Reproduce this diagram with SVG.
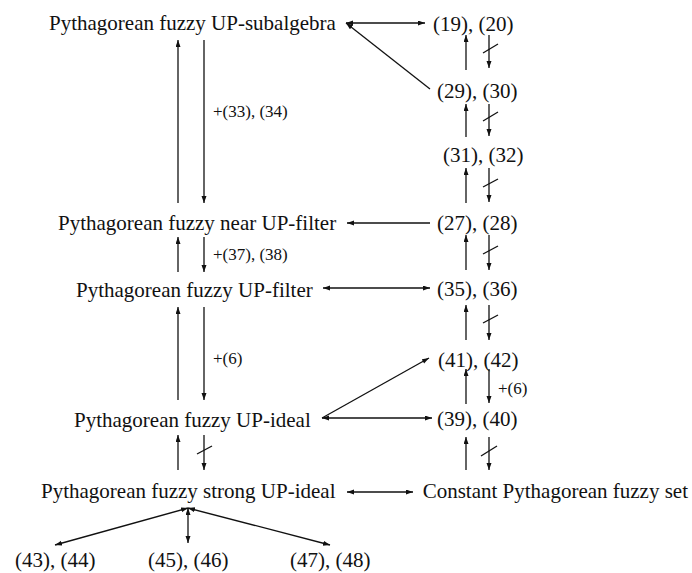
<svg xmlns="http://www.w3.org/2000/svg" width="692" height="573" viewBox="0 0 692 573">
<defs>
<marker id="ah" markerUnits="userSpaceOnUse" markerWidth="8" markerHeight="6" refX="7" refY="2.5" orient="auto-start-reverse">
<path d="M0,0 L7,2.5 L0,5 z" fill="#111"/>
</marker>
<style>
.t{font-family:"Liberation Serif","Times New Roman",serif;font-size:21px;fill:#111}
.s{font-family:"Liberation Serif","Times New Roman",serif;font-size:17px;fill:#111}
.c{stroke:#111;stroke-width:1.3;fill:none}
.a{marker-end:url(#ah)}
.d{marker-start:url(#ah);marker-end:url(#ah)}
</style>
</defs>
<rect width="692" height="573" fill="#fff"/>
<g id="n-subalgebra"><text class="t" x="49" y="30">Pythagorean fuzzy UP-subalgebra</text></g>
<g id="n-near"><text class="t" x="58" y="230">Pythagorean fuzzy near UP-filter</text></g>
<g id="n-filter"><text class="t" x="76" y="297">Pythagorean fuzzy UP-filter</text></g>
<g id="n-ideal"><text class="t" x="74" y="427">Pythagorean fuzzy UP-ideal</text></g>
<g id="n-strong"><text class="t" x="41" y="498">Pythagorean fuzzy strong UP-ideal</text></g>
<g id="n-constant"><text class="t" x="688" y="498" text-anchor="end">Constant Pythagorean fuzzy set</text></g>
<g id="n-19"><text class="t" x="433" y="31">(19), (20)</text></g>
<g id="n-29"><text class="t" x="437" y="98">(29), (30)</text></g>
<g id="n-31"><text class="t" x="443" y="162">(31), (32)</text></g>
<g id="n-27"><text class="t" x="437" y="230">(27), (28)</text></g>
<g id="n-35"><text class="t" x="437" y="296">(35), (36)</text></g>
<g id="n-41"><text class="t" x="438" y="367">(41), (42)</text></g>
<g id="n-39"><text class="t" x="437" y="426">(39), (40)</text></g>
<g id="n-43"><text class="t" x="15" y="567">(43), (44)</text></g>
<g id="n-45"><text class="t" x="148" y="567">(45), (46)</text></g>
<g id="n-47"><text class="t" x="290" y="567">(47), (48)</text></g>
<g id="connectors">
<line class="c a" x1="178" y1="203" x2="178" y2="40"/>
<line class="c a" x1="204" y1="40" x2="204" y2="203"/>
<text class="s" x="213" y="117">+(33), (34)</text>
<line class="c a" x1="178" y1="272" x2="178" y2="237"/>
<line class="c a" x1="204" y1="237" x2="204" y2="272"/>
<text class="s" x="213" y="260">+(37), (38)</text>
<line class="c a" x1="178" y1="400" x2="178" y2="307"/>
<line class="c a" x1="204" y1="307" x2="204" y2="400"/>
<text class="s" x="213" y="364">+(6)</text>
<line class="c a" x1="178" y1="470" x2="178" y2="435"/>
<line class="c a" x1="204" y1="435" x2="204" y2="470"/>
<line class="c" x1="197" y1="454" x2="212" y2="446"/>
<line class="c a" x1="466" y1="70" x2="466" y2="35"/>
<line class="c a" x1="489" y1="35" x2="489" y2="68"/>
<line class="c" x1="483" y1="53" x2="498" y2="44"/>
<line class="c a" x1="466" y1="137" x2="466" y2="104"/>
<line class="c a" x1="489" y1="104" x2="489" y2="136"/>
<line class="c" x1="483" y1="121" x2="498" y2="112"/>
<line class="c a" x1="466" y1="203" x2="466" y2="168"/>
<line class="c a" x1="489" y1="168" x2="489" y2="202"/>
<line class="c" x1="483" y1="187" x2="498" y2="179"/>
<line class="c a" x1="466" y1="270" x2="466" y2="235"/>
<line class="c a" x1="489" y1="235" x2="489" y2="270"/>
<line class="c" x1="483" y1="254" x2="498" y2="246"/>
<line class="c a" x1="466" y1="340" x2="466" y2="305"/>
<line class="c a" x1="489" y1="305" x2="489" y2="340"/>
<line class="c" x1="483" y1="323" x2="498" y2="315"/>
<line class="c a" x1="466" y1="404" x2="466" y2="369"/>
<line class="c a" x1="489" y1="369" x2="489" y2="403"/>
<text class="s" x="498" y="394">+(6)</text>
<line class="c a" x1="466" y1="470" x2="466" y2="437"/>
<line class="c a" x1="489" y1="437" x2="489" y2="470"/>
<line class="c" x1="481" y1="456" x2="497" y2="446"/>
<line class="c d" x1="346" y1="23" x2="425" y2="23"/>
<line class="c a" x1="430" y1="89" x2="346" y2="23"/>
<line class="c a" x1="430" y1="223" x2="347" y2="223"/>
<line class="c d" x1="323" y1="288" x2="430" y2="288"/>
<line class="c d" x1="322" y1="418" x2="432" y2="418"/>
<line class="c a" x1="322" y1="418" x2="429" y2="358"/>
<line class="c d" x1="347" y1="492" x2="413" y2="492"/>
<line class="c d" x1="188" y1="508" x2="55" y2="545"/>
<line class="c d" x1="188" y1="508" x2="188" y2="543"/>
<line class="c d" x1="188" y1="508" x2="330" y2="545"/>
</g>
</svg>
